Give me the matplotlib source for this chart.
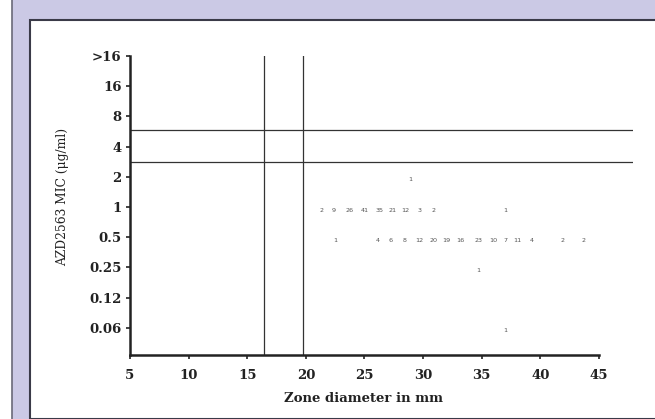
import matplotlib
matplotlib.use("Agg")
import matplotlib.pyplot as plt
from matplotlib.patches import Rectangle

# y categories (MIC, ug/ml), bottom to top
mic_labels = ["0.06", "0.12", "0.25", "0.5", "1", "2", "4", "8", "16", ">16"]
x_ticks = [5, 10, 15, 20, 25, 30, 35, 40, 45]

# breakpoint lines
zone_breaks = [16.4, 19.75]
mic_breaks = [5.5, 6.56]   # in category index units

# counts: (zone mm, mic row index, count)
row_1_x = [21.3, 22.4, 23.7, 25.0, 26.3, 27.4, 28.5, 29.7, 30.9, 37.0]
row_1_n = [2, 9, 26, 41, 35, 21, 12, 3, 2, 1]
row_05_x = [22.5, 26.15, 27.2, 28.4, 29.65, 30.85, 32.0, 33.2, 34.7, 36.0,
            37.0, 38.0, 39.3, 41.85, 43.65]
row_05_n = [1, 4, 6, 8, 12, 20, 19, 16, 23, 10, 7, 11, 4, 2, 2]
row_2_x = [28.9]
row_2_n = [1]
row_025_x = [34.7]
row_025_n = [1]
row_006_x = [37.0]
row_006_n = [1]

W, H = 655, 419
fig = plt.figure(figsize=(W / 100, H / 100), dpi=100)

# lavender frame
fig.patches.append(Rectangle((12 / W, 0), 1, 1, transform=fig.transFigure,
                             facecolor="#cbc9e5", edgecolor="none", zorder=-3))
fig.patches.append(Rectangle((30 / W, 0), 1, 1 - 20 / H, transform=fig.transFigure,
                             facecolor="white", edgecolor="#3a3a48", linewidth=1.5, zorder=-2))
fig.add_artist(plt.Line2D([11.5 / W, 11.5 / W], [0, 1], transform=fig.transFigure,
                          color="#6a6a78", linewidth=1.2))

ax = fig.add_axes([130 / W, 1 - 355 / H, (633 - 130) / W, (355 - 56) / H])
ax.set_xlim(5, 47.9)
ax.set_ylim(-0.9, 9)
ax.patch.set_alpha(0)

for s in ["top", "right"]:
    ax.spines[s].set_visible(False)
ax.spines["left"].set_linewidth(1.8)
ax.spines["bottom"].set_linewidth(1.8)
ax.spines["bottom"].set_bounds(5, 45)
ax.spines["left"].set_color("#222222")
ax.spines["bottom"].set_color("#222222")

serif = "DejaVu Serif"
ax.set_xticks(x_ticks)
ax.set_xticklabels([str(v) for v in x_ticks], fontfamily=serif, fontsize=9.5,
                   fontweight="bold", color="#222222")
ax.set_yticks(range(len(mic_labels)))
ax.set_yticklabels(mic_labels, fontfamily=serif, fontsize=9.5,
                   fontweight="bold", color="#222222")
ax.tick_params(axis="both", length=3, width=1.2, color="#222222", pad=3)
ax.tick_params(axis="x", pad=7)

for xb in zone_breaks:
    ax.axvline(xb, color="#333333", linewidth=0.9)
for yb in mic_breaks:
    ax.axhline(yb, color="#333333", linewidth=0.9)

rows = [(4, row_1_x, row_1_n), (3, row_05_x, row_05_n), (5, row_2_x, row_2_n),
        (2, row_025_x, row_025_n), (0, row_006_x, row_006_n)]
for yi, xs, ns in rows:
    for xv, n in zip(xs, ns):
        ax.text(xv, yi - 0.1, str(n), fontsize=4.6, color="#555555",
                ha="center", va="center", fontfamily="DejaVu Sans")

ax.set_xlabel("Zone diameter in mm", fontfamily=serif, fontsize=9.5,
              fontweight="bold", color="#222222")
ax.set_ylabel("AZD2563 MIC (\u03bcg/ml)", fontfamily=serif, fontsize=8.8,
              color="#222222")
ax.xaxis.set_label_coords((363 - 130) / (633 - 130), -(392 - 355) / (355 - 56))
ax.yaxis.set_label_coords(-(130 - 69) / (633 - 130), (355 - 197) / (355 - 56))

fig.savefig("out.png", dpi=100)
